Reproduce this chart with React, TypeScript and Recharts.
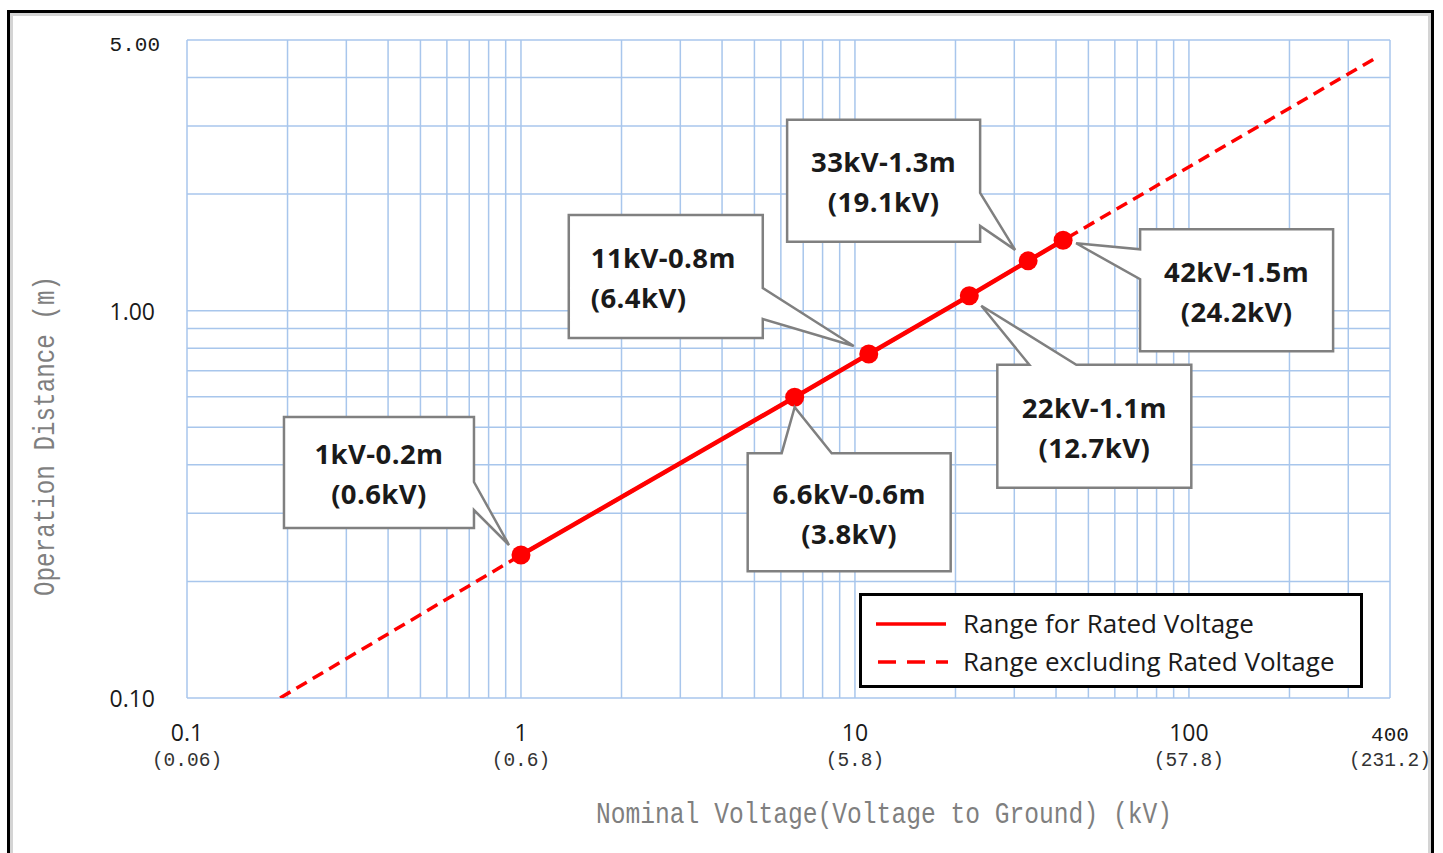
import React from 'react';
import { LineChart, Line, XAxis, YAxis, CartesianGrid, Legend } from 'recharts';

// ---------- data ----------
const RATED_VOLTAGES = [1, 6.6, 11, 22, 33, 42];
const RATED_DISTANCES = [0.234, 0.598, 0.773, 1.093, 1.345, 1.52];
const EXT_START = { v: 0.19, d: 0.1 };
const EXT_END = { v: 365, d: 4.51 };

const CALLOUT_TITLES = ['1kV-0.2m', '6.6kV-0.6m', '11kV-0.8m', '22kV-1.1m', '33kV-1.3m', '42kV-1.5m'];
const CALLOUT_SUBS = ['(0.6kV)', '(3.8kV)', '(6.4kV)', '(12.7kV)', '(19.1kV)', '(24.2kV)'];

const X_TICKS = [
  0.1, 0.2, 0.3, 0.4, 0.5, 0.6, 0.7, 0.8, 0.9,
  1, 2, 3, 4, 5, 6, 7, 8, 9,
  10, 20, 30, 40, 50, 60, 70, 80, 90,
  100, 200, 300, 400,
];
const X_MAJOR = [0.1, 1, 10, 100, 400];
const X_MAJOR_LABELS = ['0.1', '1', '10', '100', '400'];
const X_MAJOR_SUBLABELS = ['(0.06)', '(0.6)', '(5.8)', '(57.8)', '(231.2)'];
const X_DOMAIN = [0.1, 400];

const Y_TICKS = [0.1, 0.2, 0.3, 0.4, 0.5, 0.6, 0.7, 0.8, 0.9, 1, 2, 3, 4, 5];
const Y_MAJOR = [0.1, 1, 5];
const Y_MAJOR_LABELS = ['0.10', '1.00', '5.00'];
const Y_DOMAIN = [0.1, 5];

const NAME_RATED = 'Range for Rated Voltage';
const NAME_EXT = 'Range excluding Rated Voltage';
const X_TITLE = 'Nominal Voltage(Voltage to Ground) (kV)';
const Y_TITLE = 'Operation Distance (m)';

const ratedData = RATED_VOLTAGES.map((v, i) => ({ v, d: RATED_DISTANCES[i] }));
const extData = [EXT_START, ...ratedData, EXT_END];

// ---------- layout / style ----------
const W = 1443;
const H = 853;
const Y_AXIS_W = 187;
const X_AXIS_H = 155;
const MARGIN = { top: 40, right: 53, left: 0, bottom: 0 };
const PLOT_BOTTOM = H - X_AXIS_H;
const RED = '#FF0000';
const GRID = '#A8C6EC';
const SANS = '"Open Sans", "Noto Sans", sans-serif';
const MONO = '"Liberation Mono", "DejaVu Sans Mono", monospace';

type CalloutLayout = {
  dx: number; dy: number; w: number; h: number;
  side: 'top' | 'right' | 'left';
  a: number; b: number; tx: number; ty: number;
  align: 'middle' | 'start';
};

// box geometry relative to the data point (pixels)
const CALLOUT_LAYOUT: CalloutLayout[] = [
  { dx: -237, dy: -138, w: 190, h: 111, side: 'right', a: -73, b: -45, tx: -12, ty: -10, align: 'middle' },
  { dx: -47, dy: 56, w: 203, h: 118, side: 'top', a: -13, b: 37, tx: 0, ty: 10, align: 'middle' },
  { dx: -300, dy: -139, w: 194, h: 123, side: 'right', a: -66, b: -35, tx: -15, ty: -8, align: 'start' },
  { dx: 28, dy: 69, w: 194, h: 123, side: 'top', a: 60, b: 107, tx: 12, ty: 10, align: 'middle' },
  { dx: -241, dy: -141, w: 193, h: 122, side: 'right', a: -68, b: -35, tx: -13, ty: -11, align: 'middle' },
  { dx: 77, dy: -11, w: 193, h: 122, side: 'left', a: 9, b: 39, tx: 13, ty: 3, align: 'middle' },
];

const Callout = (p: any) => {
  const px = p.x ?? p.viewBox?.x;
  const py = p.y ?? p.viewBox?.y;
  let idx = p.index;
  if (idx === undefined || idx === null) idx = RATED_DISTANCES.indexOf(p.value);
  const L = CALLOUT_LAYOUT[idx];
  if (!L || px === undefined || py === undefined) return null;
  const l = px + L.dx;
  const t = py + L.dy;
  const r = l + L.w;
  const b = t + L.h;
  const tipX = px + L.tx;
  const tipY = py + L.ty;
  let pts: number[][];
  if (L.side === 'top') {
    pts = [[l, t], [px + L.a, t], [tipX, tipY], [px + L.b, t], [r, t], [r, b], [l, b]];
  } else if (L.side === 'right') {
    pts = [[l, t], [r, t], [r, py + L.a], [tipX, tipY], [r, py + L.b], [r, b], [l, b]];
  } else {
    pts = [[l, t], [r, t], [r, b], [l, b], [l, py + L.b], [tipX, tipY], [l, py + L.a]];
  }
  const d = 'M' + pts.map((q) => `${q[0]},${q[1]}`).join('L') + 'Z';
  const cy = (t + b) / 2;
  const textX = L.align === 'middle' ? (l + r) / 2 : l + 22;
  const common = {
    textAnchor: L.align, dominantBaseline: 'central', fontFamily: SANS, fontWeight: 700,
    fontSize: 27.5, fill: '#1a1a1a', letterSpacing: 0.4,
  } as any;
  return (
    <g>
      <path d={d} fill="#fff" stroke="#808080" strokeWidth={2.5} strokeLinejoin="miter" />
      <text x={textX} y={cy - 19} {...common}>{CALLOUT_TITLES[idx]}</text>
      <text x={textX} y={cy + 21} {...common}>{CALLOUT_SUBS[idx]}</text>
    </g>
  );
};

const XTick = (props: any) => {
  const { x, payload } = props;
  const i = X_MAJOR.indexOf(payload?.value);
  if (i < 0) return <g />;
  const isEnd = payload.value === X_DOMAIN[1];
  return (
    <g>
      <text x={x} y={PLOT_BOTTOM + 43} textAnchor="middle"
        fontFamily={isEnd ? MONO : SANS} fontSize={isEnd ? 21 : 23} fill="#1a1a1a">{X_MAJOR_LABELS[i]}</text>
      <text x={x} y={PLOT_BOTTOM + 68} textAnchor="middle"
        fontFamily={MONO} fontSize={19.5} fill="#333">{X_MAJOR_SUBLABELS[i]}</text>
    </g>
  );
};

const YTick = (props: any) => {
  const { y, payload } = props;
  const i = Y_MAJOR.indexOf(payload?.value);
  if (i < 0) return <g />;
  const isEnd = payload.value === Y_DOMAIN[1];
  return (
    <text x={isEnd ? Y_AXIS_W - 27 : Y_AXIS_W - 32} y={isEnd ? y + 5 : y} textAnchor="end" dominantBaseline="central"
      fontFamily={isEnd ? MONO : SANS} fontSize={isEnd ? 21 : 23} fill="#1a1a1a">{Y_MAJOR_LABELS[i]}</text>
  );
};

const LegendBox = (props: any) => {
  let items: any[] = [...(props.payload || [])];
  if (items.length === 0) {
    items = [
      { value: NAME_RATED, color: RED, payload: {} },
      { value: NAME_EXT, color: RED, payload: { strokeDasharray: '12 7' } },
    ];
  }
  items.sort((a, b) => (a.payload?.strokeDasharray ? 1 : 0) - (b.payload?.strokeDasharray ? 1 : 0));
  return (
    <svg width={504} height={95} style={{ display: 'block' }}>
      <rect x={1.5} y={1.5} width={501} height={92} fill="#fff" stroke="#000" strokeWidth={3} />
      {items.map((it, i) => {
        const dashed = !!it.payload?.strokeDasharray;
        const ly = i === 0 ? 31 : 69;
        return (
          <g key={i}>
            <line x1={dashed ? 19 : 17} x2={dashed ? 89 : 87} y1={ly} y2={ly} stroke={it.color || RED}
              strokeWidth={3.5} strokeDasharray={dashed ? '18 11' : undefined} />
            <text x={104} y={ly + 9} fontFamily={SANS} fontSize={26} fill="#1a1a1a">{it.value}</text>
          </g>
        );
      })}
    </svg>
  );
};

export default function App() {
  return (
    <div style={{ position: 'absolute', left: 0, top: 0, width: W, height: H, overflow: 'hidden', background: '#fff' }}>
      <div style={{
        position: 'absolute', left: 7, top: 10, width: 1427, height: 900, boxSizing: 'border-box',
        border: '3px solid #000', boxShadow: 'inset 3px 3px 0 #d4d4d4, inset -3px 0 0 #d4d4d4',
      }} />
      <div style={{ position: 'absolute', left: 0, top: 0 }}>
        <LineChart width={W} height={H} margin={MARGIN}>
          <CartesianGrid stroke={GRID} strokeWidth={1.5} />
          <XAxis dataKey="v" type="number" scale="log" domain={X_DOMAIN} ticks={X_TICKS} interval={0}
            allowDataOverflow axisLine={false} tickLine={false} height={X_AXIS_H} tick={<XTick />} />
          <YAxis dataKey="d" type="number" scale="log" domain={Y_DOMAIN} ticks={Y_TICKS} interval={0}
            allowDataOverflow axisLine={false} tickLine={false} width={Y_AXIS_W} tick={<YTick />} />
          <Legend layout="horizontal" verticalAlign="middle" align="center" content={<LegendBox />}
            wrapperStyle={{ left: 859, top: 593, width: 504, height: 95 }} />
          <Line data={extData} dataKey="d" name={NAME_EXT} stroke={RED} strokeWidth={3.5}
            strokeDasharray="12 7" dot={false} activeDot={false} isAnimationActive={false} legendType="line" />
          <Line data={ratedData} dataKey="d" name={NAME_RATED} stroke={RED} strokeWidth={4.5}
            dot={{ r: 9.5, fill: RED, stroke: 'none' }} activeDot={false} isAnimationActive={false}
            label={(p: any) => <Callout {...p} />} legendType="line" />
        </LineChart>
      </div>
      <svg width={W} height={H} style={{ position: 'absolute', left: 0, top: 0, pointerEvents: 'none' }}>
        <text x={884} y={815} textAnchor="middle" dominantBaseline="central" fontFamily={MONO} fontSize={30}
          fill="#7f7f7f" textLength={576} lengthAdjust="spacingAndGlyphs">{X_TITLE}</text>
        <text x={46} y={436} textAnchor="middle" dominantBaseline="central" fontFamily={MONO} fontSize={30}
          fill="#7f7f7f" textLength={320} lengthAdjust="spacingAndGlyphs" transform="rotate(-90 46 436)">{Y_TITLE}</text>
      </svg>
    </div>
  );
}
